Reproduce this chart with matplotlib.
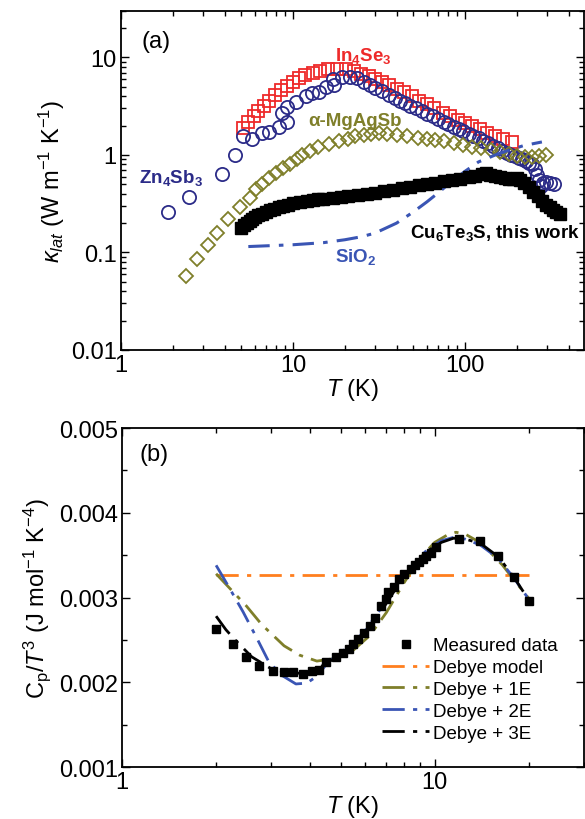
import matplotlib
matplotlib.use("Agg")
import matplotlib.pyplot as plt
from matplotlib.ticker import LogLocator, NullFormatter, FuncFormatter, MultipleLocator
import numpy as np

plt.rcParams['font.family'] = ['Liberation Sans', 'DejaVu Sans']
plt.rcParams['mathtext.fontset'] = 'custom'
plt.rcParams['mathtext.rm'] = 'Liberation Sans'
plt.rcParams['mathtext.it'] = 'Liberation Sans:italic'
plt.rcParams['mathtext.bf'] = 'Liberation Sans:bold'

# ---- panel (a): lattice thermal conductivity ----
CU_T = [5.0, 5.2, 5.4, 5.6, 5.8, 6.0, 6.3, 6.6, 7.0, 7.4, 7.8, 8.3, 8.8, 9.4, 10, 11, 12,
        13, 14, 15, 17, 19, 21, 24, 27, 30, 34, 38, 43, 48, 54, 60, 67, 75, 84, 94, 105,
        115, 125, 132, 140, 150, 160, 170, 180, 190, 200, 210, 220, 235, 250, 265, 280,
        295, 310, 325, 340, 355]
CU_K = [0.18, 0.19, 0.20, 0.21, 0.22, 0.23, 0.24, 0.25, 0.26, 0.27, 0.28, 0.29, 0.30,
        0.31, 0.32, 0.33, 0.34, 0.345, 0.35, 0.355, 0.36, 0.37, 0.38, 0.39, 0.40, 0.41,
        0.43, 0.44, 0.46, 0.47, 0.49, 0.50, 0.52, 0.54, 0.55, 0.57, 0.59, 0.61, 0.64,
        0.65, 0.63, 0.61, 0.60, 0.58, 0.57, 0.57, 0.58, 0.55, 0.51, 0.47, 0.42, 0.38,
        0.34, 0.31, 0.29, 0.27, 0.26, 0.25]

IN_T = [5.1, 5.5, 5.9, 6.3, 6.8, 7.3, 7.9, 8.5, 9.2, 10.0, 10.8, 11.8, 13.0, 14.4, 16.0,
        18.0, 20.3, 22.5, 25, 27.5, 30, 33, 36, 40, 44, 49, 54, 60, 66, 74, 82, 91,
        100, 110, 122, 135, 150, 167, 188]
IN_K = [1.9, 2.2, 2.5, 2.8, 3.2, 3.6, 4.1, 4.6, 5.1, 5.6, 6.1, 6.6, 7.0, 7.3, 7.6, 7.6,
        7.6, 7.2, 6.8, 6.4, 6.0, 5.6, 5.2, 4.8, 4.4, 4.0, 3.6, 3.3, 3.0, 2.7, 2.5, 2.3,
        2.15, 2.0, 1.85, 1.7, 1.58, 1.47, 1.37]

ZN_T = [1.87, 2.48, 3.85, 4.6, 5.1, 5.75, 6.6, 7.3, 8.3, 9.2, 8.6, 9.2, 10.4, 11.9,
        12.9, 14.2, 15.6, 17.4, 17.0, 19.3, 21.5, 23.5, 26, 28, 30, 33, 36, 39, 42, 45,
        48, 52, 56, 60, 65, 70, 75, 80, 86, 92, 98, 105, 112, 120, 128, 136, 145, 155,
        165, 175, 185, 195, 205, 215, 225, 235, 245, 255, 262, 270, 278, 286, 295, 310,
        330]
ZN_K = [0.26, 0.37, 0.64, 1.0, 1.55, 1.47, 1.69, 1.73, 1.94, 2.2, 2.7, 3.1, 3.5, 4.0,
        4.3, 4.4, 5.0, 5.2, 6.0, 6.3, 6.3, 6.1, 5.6, 5.2, 4.9, 4.5, 4.1, 3.8, 3.6, 3.4,
        3.2, 3.0, 2.8, 2.65, 2.5, 2.35, 2.2, 2.1, 1.95, 1.85, 1.75, 1.65, 1.55, 1.48,
        1.4, 1.33, 1.25, 1.18, 1.1, 1.05, 1.0, 0.97, 0.94, 0.9, 0.86, 0.83, 0.8, 0.72,
        0.63, 0.55, 0.48, 0.52, 0.53, 0.52, 0.5]

MG_T = [2.4, 2.75, 3.2, 3.6, 4.2, 4.9, 5.6, 6.1, 6.6, 7.3, 8.0, 8.8, 9.6, 10.5, 11.3,
        12.5, 14.0, 16.3, 18.5, 21, 23, 26, 28.5, 31.8, 35, 40, 46, 53, 60, 67, 76, 86,
        97, 110, 124, 141, 160, 180, 200, 222, 245, 270, 295]
MG_K = [0.058, 0.085, 0.12, 0.16, 0.22, 0.29, 0.36, 0.45, 0.5, 0.58, 0.66, 0.73, 0.8,
        0.9, 1.0, 1.1, 1.2, 1.3, 1.4, 1.45, 1.55, 1.6, 1.65, 1.68, 1.65, 1.6, 1.55,
        1.5, 1.45, 1.42, 1.38, 1.33, 1.28, 1.22, 1.17, 1.12, 1.07, 1.02, 0.98, 0.95,
        0.95, 0.97, 1.0]

SIO2_T = [5.5, 7, 10, 15, 20, 25, 30, 40, 50, 60, 70, 80, 100, 120, 150, 180, 220, 280]
SIO2_K = [0.115, 0.117, 0.12, 0.126, 0.135, 0.145, 0.158, 0.2, 0.26, 0.33, 0.41, 0.5,
          0.68, 0.85, 1.0, 1.12, 1.25, 1.36]

# ---- panel (b): Cp/T^3 ----
MEAS_T = [2.0, 2.27, 2.5, 2.75, 3.03, 3.3, 3.53, 3.78, 4.05, 4.28, 4.5, 4.85, 5.1, 5.33,
          5.5, 5.7, 5.95, 6.2, 6.45, 6.75, 7.0, 7.1, 7.4, 7.7, 8.0, 8.4, 8.65, 8.9, 9.15,
          9.4, 9.7, 10.1, 12.0, 14.0, 16.0, 17.9, 20.0]
MEAS_C = [0.00263, 0.00245, 0.0023, 0.00219, 0.00213, 0.00212, 0.00212, 0.0021,
          0.00213, 0.00215, 0.00224, 0.0023, 0.00234, 0.00239, 0.00245, 0.00251,
          0.00258, 0.00266, 0.00276, 0.0029, 0.00298, 0.00306, 0.00313, 0.00322,
          0.00328, 0.00334, 0.00338, 0.00342, 0.00346, 0.00349, 0.00353, 0.0036,
          0.00369, 0.00367, 0.00349, 0.00324, 0.00296]

DEBYE_T = [2.0, 20.0]
DEBYE_C = [0.00326, 0.00326]

E1_T = [2.0, 2.5, 2.8, 3.3, 3.7, 4.2, 4.8, 5.5, 6.2, 7.0, 8.0, 9.0, 10.0, 11.0, 11.7,
        12.5, 13.5, 15.0, 16.5, 18.0, 20.0]
E1_C = [0.00328, 0.0029, 0.00268, 0.00243, 0.00232, 0.00225, 0.00228, 0.00238, 0.00255,
        0.00282, 0.00318, 0.00347, 0.00365, 0.00374, 0.00377, 0.00375, 0.00368,
        0.00354, 0.00338, 0.0032, 0.00299]

E2_T = [2.0, 2.2, 2.44, 2.7, 2.95, 3.25, 3.6, 3.9, 4.2, 4.57, 5.0, 5.5, 6.0, 6.7, 7.5,
        8.5, 9.5, 10.5, 11.5, 12.5, 14.0, 16.0, 18.0, 20.0]
E2_C = [0.00338, 0.00312, 0.00283, 0.00252, 0.00224, 0.00208, 0.00198, 0.00199,
        0.00207, 0.00224, 0.00235, 0.00247, 0.00261, 0.00286, 0.00313, 0.00338,
        0.00357, 0.00367, 0.00371, 0.00369, 0.00362, 0.00346, 0.00322, 0.00298]

E3_T = [2.0, 2.15, 2.3, 2.6, 3.0, 3.5, 4.0, 4.5, 5.0, 5.5, 6.0, 6.7, 7.5, 8.5, 9.5,
        10.5, 11.5, 12.5, 14.0, 16.0, 18.0, 20.0]
E3_C = [0.00278, 0.00262, 0.0025, 0.0023, 0.00216, 0.0021, 0.00212, 0.00222, 0.00233,
        0.00245, 0.00258, 0.00282, 0.0031, 0.00336, 0.00355, 0.00365, 0.0037, 0.00369,
        0.00364, 0.00348, 0.00323, 0.00297]

RED = '#ee2a2a'
NAVY = '#2b2b88'
OLIVE = '#7f7f2a'
BLUE = '#3a55b4'
ORANGE = '#ff7f1e'
FS = 17


def style_axes(ax):
    ax.tick_params(which='both', direction='in', top=True, right=True,
                   labelsize=FS, width=1.0, pad=3)
    ax.tick_params(which='major', length=6)
    ax.tick_params(which='minor', length=3.5)
    for s in ax.spines.values():
        s.set_linewidth(1.3)


def plain(v, pos):
    return '%g' % v


def main():
    fig = plt.figure(figsize=(5.85, 8.2), dpi=100)

    # panel (a)
    ax1 = fig.add_axes([0.2068, 0.572, 0.791, 0.4134])
    ax1.set_xscale('log')
    ax1.set_yscale('log')
    ax1.plot(CU_T, CU_K, 's', color='black', ms=8, mec='black', zorder=3)
    ax1.plot(IN_T, IN_K, 's', mfc='none', mec=RED, mew=1.3, ms=9)
    ax1.plot(ZN_T, ZN_K, 'o', mfc='none', mec=NAVY, mew=1.3, ms=9.5)
    ax1.plot(MG_T, MG_K, 'D', mfc='none', mec=OLIVE, mew=1.3, ms=7.5)
    ax1.plot(SIO2_T, SIO2_K, color=BLUE, lw=2.2, dashes=(7, 3, 1.5, 3))
    ax1.set_xlim(1, 490)
    ax1.set_ylim(0.01, 30)
    ax1.xaxis.set_major_formatter(FuncFormatter(plain))
    ax1.yaxis.set_major_formatter(FuncFormatter(plain))
    ax1.xaxis.set_minor_formatter(NullFormatter())
    ax1.yaxis.set_minor_locator(LogLocator(base=10, subs=np.arange(2, 10)))
    ax1.yaxis.set_minor_formatter(NullFormatter())
    style_axes(ax1)
    ax1.set_xlabel(r'$T$ (K)', fontsize=FS, labelpad=0)
    ax1.set_ylabel(r'$\kappa_{lat}$ (W m$^{-1}$ K$^{-1}$)', fontsize=FS, labelpad=3)
    ax1.text(0.045, 0.91, '(a)', transform=ax1.transAxes, fontsize=FS, va='center')
    tk = dict(fontsize=13.5, fontweight='bold', ha='center', va='center')
    ax1.text(25.5, 10.6, r'In$_\mathbf{4}$Se$_\mathbf{3}$', color=RED, **tk)
    ax1.text(1.95, 0.6, r'Zn$_\mathbf{4}$Sb$_\mathbf{3}$', color=NAVY, **tk)
    ax1.text(23, 2.24, 'α-MgAgSb', color=OLIVE, **tk)
    ax1.text(150, 0.164, r'Cu$_\mathbf{6}$Te$_\mathbf{3}$S, this work', color='black', **tk)
    ax1.text(23, 0.091, r'SiO$_\mathbf{2}$', color=BLUE, **tk)

    # panel (b)
    ax2 = fig.add_axes([0.2085, 0.0634, 0.7895, 0.4134])
    ax2.set_xscale('log')
    ax2.plot(DEBYE_T, DEBYE_C, color=ORANGE, lw=2, dashes=(8, 3, 1.5, 3), label='Debye model')
    ax2.plot(E1_T, E1_C, color=OLIVE, lw=2, dashes=(8, 3, 1.5, 3), label='Debye + 1E')
    ax2.plot(E2_T, E2_C, color=BLUE, lw=2, dashes=(8, 3, 1.5, 3), label='Debye + 2E')
    ax2.plot(MEAS_T, MEAS_C, 's', color='black', ms=5.5, label='Measured data', zorder=3)
    ax2.plot(E3_T, E3_C, color='black', lw=2, dashes=(8, 3, 1.5, 3), label='Debye + 3E', zorder=4)
    ax2.set_xlim(1, 30)
    ax2.set_ylim(0.001, 0.005)
    ax2.yaxis.set_major_locator(MultipleLocator(0.001))
    ax2.yaxis.set_minor_locator(MultipleLocator(0.0005))
    ax2.yaxis.set_major_formatter(FuncFormatter(lambda v, p: '%.3f' % v))
    ax2.xaxis.set_major_formatter(FuncFormatter(plain))
    ax2.xaxis.set_minor_formatter(NullFormatter())
    style_axes(ax2)
    ax2.set_xlabel(r'$T$ (K)', fontsize=FS, labelpad=0)
    ax2.set_ylabel(r'C$_\mathrm{p}$/$T^3$ (J mol$^{-1}$ K$^{-4}$)', fontsize=FS, labelpad=4)
    ax2.text(0.039, 0.923, '(b)', transform=ax2.transAxes, fontsize=FS, va='center')

    h, l = ax2.get_legend_handles_labels()
    order = [l.index(n) for n in ['Measured data', 'Debye model', 'Debye + 1E',
                                  'Debye + 2E', 'Debye + 3E']]
    ax2.legend([h[i] for i in order], [l[i] for i in order], loc='lower right',
               bbox_to_anchor=(0.98, 0.025), frameon=False, fontsize=13.5,
               handlelength=2.5, handletextpad=0.2, labelspacing=0.25)

    fig.savefig('out.png', dpi=100)
    plt.close(fig)


if __name__ == '__main__':
    main()
